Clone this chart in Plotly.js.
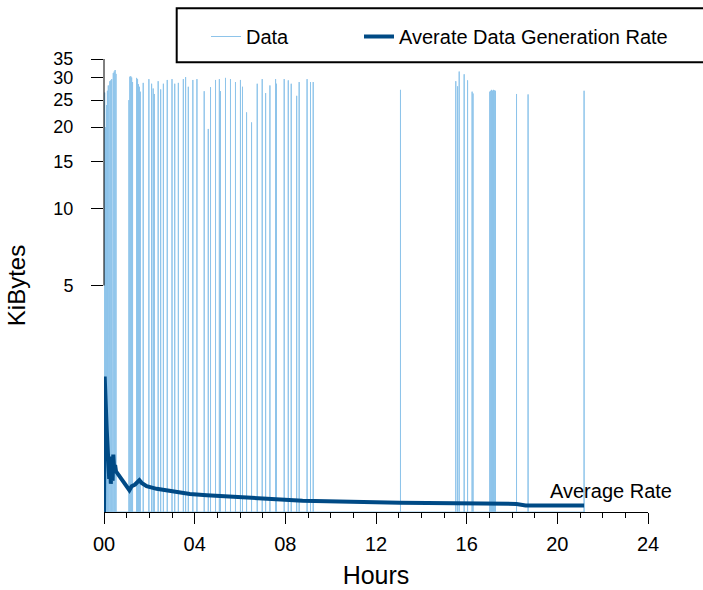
<!DOCTYPE html>
<html>
<head>
<meta charset="utf-8">
<script src="https://cdn.plot.ly/plotly-3.0.1.min.js"></script>
<style>html,body{margin:0;padding:0;background:#fff;}#chart{width:703px;height:590px;}</style>
</head>
<body>
<div id="chart"></div>
<script>
// ---- Data ----
var spikeHours = [0.03,0.07,0.11,0.15,0.19,0.23,0.26,0.30,0.34,0.38,0.41,0.45,0.49,0.53,
  1.10,1.14,1.18,1.22,1.26,1.44,1.48,1.52,1.56,1.60,
  1.73,1.98,2.10,2.17,2.22,2.39,2.50,2.62,2.79,3.00,3.12,3.28,3.50,3.60,3.72,3.92,4.10,4.42,4.60,4.70,
  4.92,5.09,5.14,5.36,5.58,5.80,6.02,6.11,6.29,6.51,6.76,6.98,7.13,7.32,7.57,7.61,7.95,8.13,8.26,8.50,
  8.61,8.96,9.11,9.23,
  13.08,15.52,15.60,15.67,15.89,16.04,16.24,16.28,17.02,17.06,17.10,17.14,17.18,17.22,17.27,18.20,18.71,21.18];
var spikeKiB = [26.6,20.0,24.0,27.0,28.2,28.5,29.2,29.4,29.7,30.5,31.2,31.6,32.0,31.0,
  25.0,30.3,30.4,30.1,29.0,30.0,29.7,28.5,27.9,26.8,
  28.8,29.7,28.6,27.5,26.3,29.2,27.3,28.6,29.5,29.7,28.6,28.8,29.7,30.2,27.9,29.5,29.7,26.9,19.7,27.8,
  29.5,29.7,26.9,30.0,29.7,29.0,29.5,27.9,22.6,20.8,28.6,29.7,26.5,28.2,29.7,28.6,29.7,29.4,28.6,25.9,
  29.0,29.7,29.0,29.0,
  27.2,29.2,28.0,31.6,30.9,29.4,26.8,26.4,26.8,27.0,27.2,27.0,27.2,27.1,27.0,26.3,26.2,27.0];

var avgHours = [0,0.03,0.12,0.19,0.23,0.26,0.30,0.34,0.38,0.41,0.45,0.49,0.53,1.12,1.22,1.37,1.56,1.66,1.88,
  2.32,3.06,3.79,4.53,5.26,6.00,6.73,7.47,8.20,8.76,13.05,17.0,18.1,18.2,18.6,21.18];
var avgKiB = [0,1.92,0.92,0.48,0.30,0.55,0.25,0.45,0.28,0.575,0.40,0.45,0.38,0.188,0.226,0.243,0.286,0.259,0.226,
  0.201,0.173,0.154,0.142,0.133,0.124,0.116,0.110,0.104,0.092,0.075,0.063,0.060,0.066,0.053,0.053];

var yTickValues = [5,10,15,20,25,30,35];
var xTickHours = [0,4,8,12,16,20,24];
var xTickText = ['00','04','08','12','16','20','24'];

// ---- Build traces (axis shows y+1 on a log scale, labelled with y) ----
var dataX = [], dataY = [];
for (var i = 0; i < spikeHours.length; i++) {
  dataX.push(spikeHours[i], spikeHours[i], spikeHours[i]);
  dataY.push(1, spikeKiB[i] + 1, 1);
}
var avgY = avgKiB.map(function(v){ return v + 1; });

var FONT = 'Liberation Sans, Arial, Helvetica, sans-serif';
var yTop = Math.log10(yTickValues[yTickValues.length-1] + 1);
function yFrac(v){ return Math.log10(v + 1) / yTop; }

var traces = [
  {x: dataX, y: dataY, type: 'scatter', mode: 'lines', name: 'Data',
   line: {color: '#8ec4ea', width: 1}, legend: 'legend'},
  {x: avgHours, y: avgY, type: 'scatter', mode: 'lines', name: 'Averate Data Generation Rate',
   line: {color: '#004a85', width: 4}, legend: 'legend2'}
];

var W = 544, H = 453;
function px2fx(p){ return (p - 104) / W; }
function py2fy(p){ return (512 - p) / H; }

var legendFont = {family: FONT, size: 20, color: '#000'};
var layout = {
  width: 703, height: 590,
  margin: {l: 104, r: 55, t: 59, b: 78, pad: 0},
  paper_bgcolor: '#fff', plot_bgcolor: '#fff',
  font: {family: FONT, size: 20, color: '#000'},
  showlegend: true,
  legend: {orientation: 'h', x: px2fx(206), y: py2fy(17), xanchor: 'left', yanchor: 'top',
           bgcolor: 'rgba(0,0,0,0)', borderwidth: 0, font: legendFont},
  legend2: {orientation: 'h', x: px2fx(359), y: py2fy(17), xanchor: 'left', yanchor: 'top',
           bgcolor: 'rgba(0,0,0,0)', borderwidth: 0, font: legendFont},
  xaxis: {
    type: 'linear', range: [0, 24], showgrid: false, zeroline: false,
    showline: true, linecolor: '#000', linewidth: 1,
    tickmode: 'array', tickvals: xTickHours, ticktext: xTickText,
    ticks: 'outside', ticklen: 11, tickwidth: 1, tickcolor: '#000',
    ticklabelstandoff: 3,
    tickfont: {family: FONT, size: 20, color: '#000'},
    minor: {tickmode: 'linear', tick0: 0, dtick: 1, ticks: 'outside', ticklen: 5, tickwidth: 1, tickcolor: '#000', showgrid: false},
    title: {text: 'Hours', font: {family: FONT, size: 25, color: '#000'}, standoff: 12}
  },
  yaxis: {
    type: 'log', range: [0, yTop], showgrid: false, zeroline: false, showline: false,
    tickmode: 'array', tickvals: yTickValues.map(function(v){return v+1;}),
    ticktext: yTickValues.map(String),
    ticks: 'outside', ticklen: 12, tickwidth: 1, tickcolor: '#000',
    ticklabelstandoff: 14,
    tickfont: {family: FONT, size: 18, color: '#000'},
    title: {text: 'KiBytes', font: {family: FONT, size: 24, color: '#000'}, standoff: 20}
  },
  shapes: [
    {type: 'line', xref: 'paper', yref: 'paper', x0: 0, x1: 0,
     y0: yFrac(yTickValues[0]), y1: 1, line: {color: '#000', width: 1}},
    {type: 'rect', xref: 'paper', yref: 'paper', x0: px2fx(176.7), x1: px2fx(712),
     y0: py2fy(62.3), y1: py2fy(8.3), line: {color: '#000', width: 2}, fillcolor: 'rgba(0,0,0,0)'}
  ],
  annotations: [
    {text: 'Average Rate', xref: 'x', yref: 'paper', x: 19.58, y: py2fy(490.7),
     xanchor: 'left', yanchor: 'middle', showarrow: false,
     font: {family: FONT, size: 20, color: '#000'}}
  ]
};

Plotly.newPlot('chart', traces, layout, {displayModeBar: false, staticPlot: true});
</script>
</body>
</html>
